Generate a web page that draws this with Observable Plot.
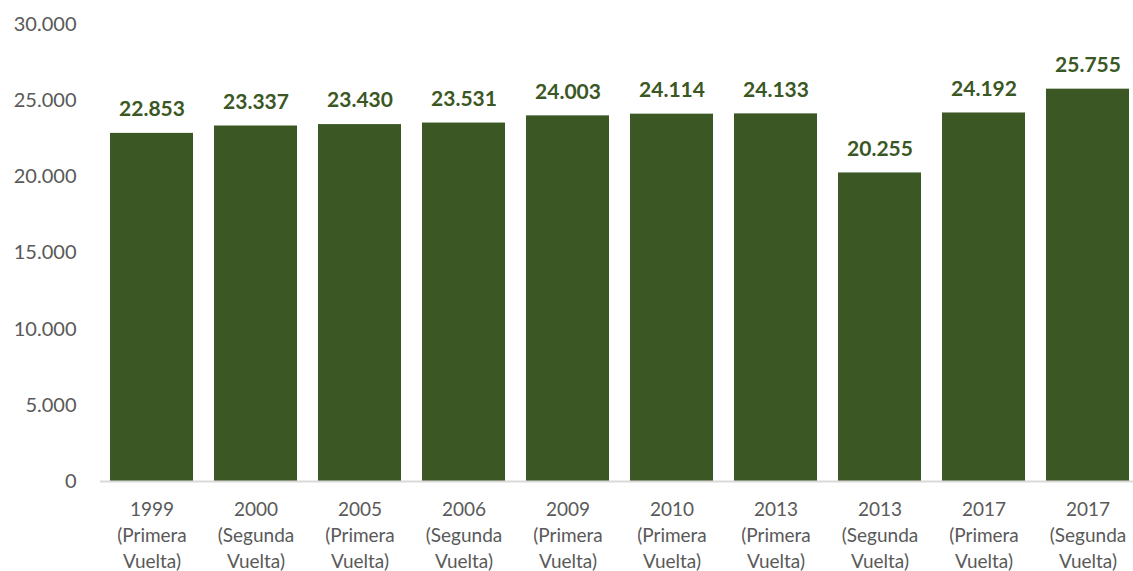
<!DOCTYPE html>
<html>
<head>
<meta charset="utf-8">
<script src="https://cdn.jsdelivr.net/npm/d3@7"></script>
<script src="https://cdn.jsdelivr.net/npm/@observablehq/plot@0.6"></script>
<style>
  html, body { margin: 0; padding: 0; background: #ffffff; }
  #chart svg { display: block; }
</style>
</head>
<body>
<div id="chart"></div>
<script>
const years = ["1999", "2000", "2005", "2006", "2009", "2010", "2013", "2013", "2017", "2017"];
const rounds = ["Primera", "Segunda", "Primera", "Segunda", "Primera", "Primera", "Primera", "Segunda", "Primera", "Segunda"];
const values = [22853, 23337, 23430, 23531, 24003, 24114, 24133, 20255, 24192, 25755];
const yTicks = [0, 5000, 10000, 15000, 20000, 25000, 30000];

const locale = d3.formatLocale({decimal: ",", thousands: ".", grouping: [3], currency: ["", ""]});
const fmt = locale.format(",d");

const data = years.map((y, i) => ({
  label: `${y}\n(${rounds[i]}\nVuelta)`,
  value: values[i]
}));

const font = "Lato, 'Open Sans', sans-serif";

const chart = Plot.plot({
  width: 1133,
  height: 571,
  marginLeft: 100,
  marginRight: -7,
  marginTop: 24,
  marginBottom: 90,
  style: {fontFamily: font, background: "#ffffff"},
  x: {domain: data.map(d => d.label), paddingInner: 0.2, paddingOuter: 0.1, label: null},
  y: {domain: [0, 30000], label: null},
  marks: [
    Plot.barY(data, {x: "label", y: "value", fill: "#3a5724"}),
    Plot.ruleY([0], {stroke: "#d9d9d9", strokeWidth: 2}),
    Plot.text(data, {x: "label", y: "value", text: d => fmt(d.value), dy: -24,
      fill: "#3a5724", fontWeight: "bold", fontSize: 21, fontFamily: font}),
    Plot.axisY({ticks: yTicks, tickFormat: fmt, tickSize: 0, tickPadding: 24,
      fontSize: 20, fill: "#595959", label: null}),
    Plot.axisX({tickSize: 0, tickPadding: 16, fontSize: 19, lineHeight: 1.36,
      fill: "#595959", label: null})
  ]
});
document.getElementById("chart").appendChild(chart);
</script>
</body>
</html>
